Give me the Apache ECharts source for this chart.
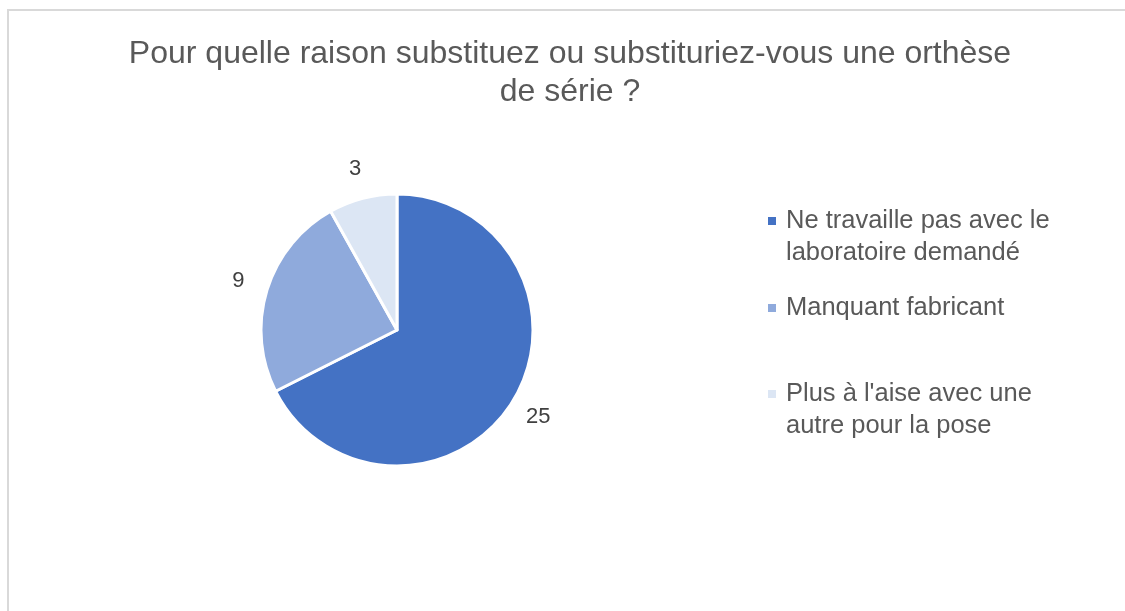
<!DOCTYPE html>
<html>
<head>
<meta charset="utf-8">
<script src="https://cdn.jsdelivr.net/npm/echarts@6/dist/echarts.min.js"></script>
<style>
  html, body { margin: 0; padding: 0; background: #fff; }
  #main { width: 1125px; height: 611px; }
</style>
</head>
<body>
<div id="main"></div>
<script>
var categories = ['Ne travaille pas avec le\nlaboratoire demandé', 'Manquant fabricant', "Plus à l'aise avec une\nautre pour la pose"];
var values = [25, 9, 3];
var colors = ['#4472C4', '#8FAADC', '#DCE6F4'];

var chart = echarts.init(document.getElementById('main'));

var pieData = categories.map(function (name, i) {
    return { name: name, value: values[i], itemStyle: { color: colors[i] } };
});

// marker sits on the first line of a two-line legend entry
var topIcon = 'path://M0,0L8,0L8,8L0,8Z M0,40L0.01,40L0,40Z';

// Excel spaces the legend entries unevenly, so one legend per entry
var legendTops = [205, 292, 378];
var legends = categories.map(function (name, i) {
    var twoLines = name.indexOf('\n') >= 0;
    return {
        data: [name],
        orient: 'vertical',
        left: 768,
        top: legendTops[i],
        padding: 0,
        itemWidth: 8,
        itemHeight: twoLines ? 40 : 8,
        itemGap: 0,
        icon: twoLines ? topIcon : 'rect',
        itemStyle: { borderWidth: 0 },
        selectedMode: false,
        textStyle: {
            color: '#595959',
            fontFamily: 'Liberation Sans',
            fontSize: 25.5,
            lineHeight: 32,
            padding: [0, 0, 0, 5],
        },
    };
});

var option = {
    animation: false,
    title: {
        text: 'Pour quelle raison substituez ou substituriez-vous une orthèse\nde série ?',
        left: 570,
        top: 35,
        padding: 0,
        textAlign: 'center',
        textStyle: {
            color: '#595959',
            fontFamily: 'Liberation Sans',
            fontSize: 32,
            fontWeight: 'normal',
            lineHeight: 38,
        },
    },
    legend: legends,
    graphic: [{
        type: 'rect',
        shape: { x: 8, y: 10, width: 1300, height: 800 },
        style: { fill: 'none', stroke: '#d9d9d9', lineWidth: 2 },
        silent: true,
    }],
    series: [{
        type: 'pie',
        center: [397, 330],
        radius: 136,
        startAngle: 90,
        clockwise: true,
        data: pieData,
        itemStyle: { borderColor: '#fff', borderWidth: 3 },
        label: { show: false },
        labelLine: { show: false },
        emphasis: { disabled: true },
    }, {
        // invisible wider ring, only used to centre the value labels just outside the pie
        type: 'pie',
        center: [397, 330],
        radius: [0, 326],
        startAngle: 90,
        clockwise: true,
        silent: true,
        z: 1,
        data: values.map(function (v, i) { return { name: categories[i], value: v }; }),
        itemStyle: { color: 'rgba(0,0,0,0)', borderWidth: 0 },
        label: {
            show: true,
            position: 'inside',
            formatter: '{c}',
            color: '#404040',
            fontFamily: 'Liberation Sans',
            fontSize: 22,
        },
        labelLine: { show: false },
        emphasis: { disabled: true },
    }],
};
option && chart.setOption(option);
</script>
</body>
</html>
